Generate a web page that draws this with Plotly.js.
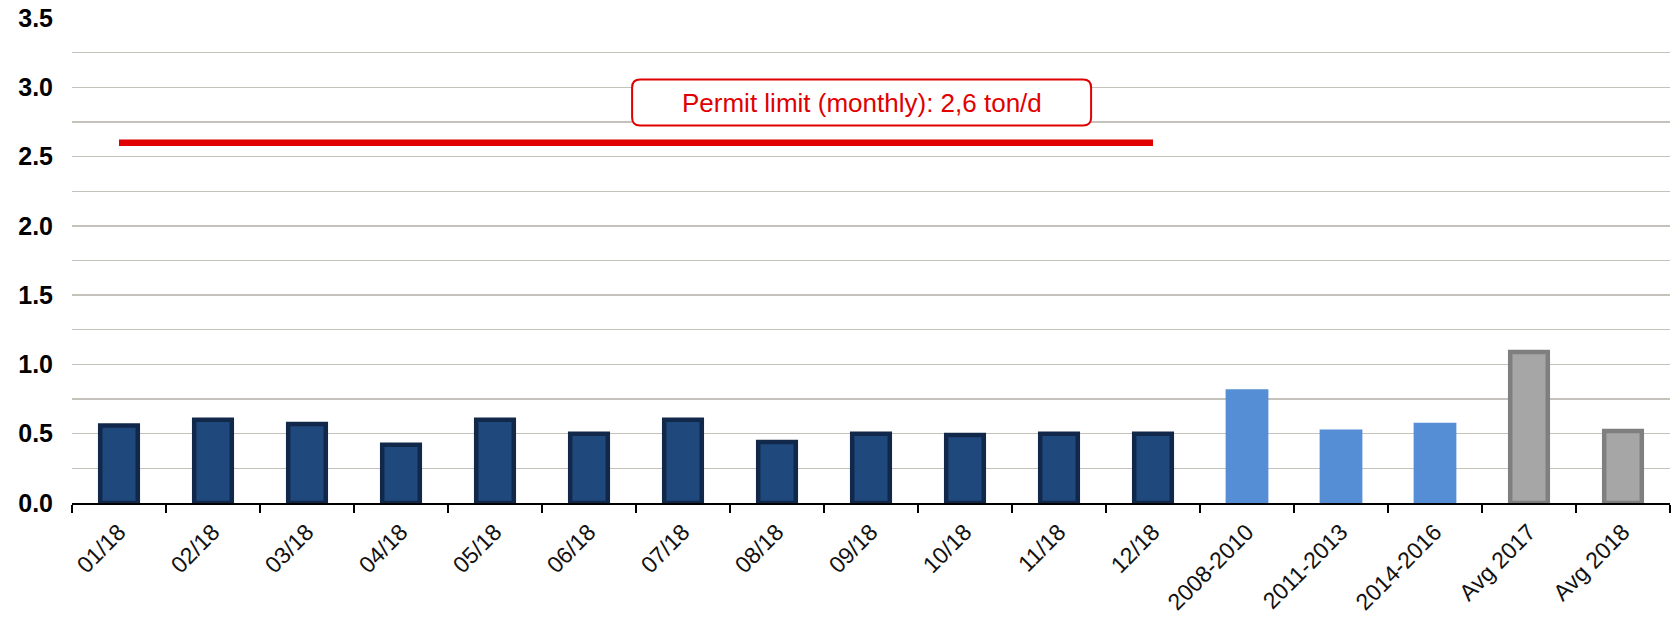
<!DOCTYPE html>
<html>
<head>
<meta charset="utf-8">
<script src="https://cdn.plot.ly/plotly-3.0.1.min.js"></script>
<style>html,body{margin:0;padding:0;background:#fff;}#chart{width:1678px;height:617px;}</style>
</head>
<body>
<div id="chart"></div>
<script>
// ---- data ----
const monthCats = ['01/18','02/18','03/18','04/18','05/18','06/18','07/18','08/18','09/18','10/18','11/18','12/18'];
const monthVals = [0.56,0.60,0.57,0.42,0.60,0.50,0.60,0.44,0.50,0.49,0.50,0.50];
const periodCats = ['2008-2010','2011-2013','2014-2016'];
const periodVals = [0.82,0.53,0.58];
const avgCats = ['Avg 2017','Avg 2018'];
const avgVals = [1.09,0.52];
const limitValue = 2.6;
const limitCats = ['01/18','12/18'];
const limitLabel = 'Permit limit (monthly): 2,6 ton/d';
const yTickVals = [0,0.5,1,1.5,2,2.5,3,3.5];
const yTickText = ['0.0','0.5','1.0','1.5','2.0','2.5','3.0','3.5'];
const allCats = monthCats.concat(periodCats, avgCats);

const FONT = 'Liberation Sans, Arial, sans-serif';

const traces = [
  {type:'bar', x:monthCats, y:monthVals, width:0.40,
   marker:{color:'#1f497d', line:{color:'#12284a', width:4.5}}, hoverinfo:'x+y'},
  {type:'bar', x:periodCats, y:periodVals, width:0.455,
   marker:{color:'#558ed5', line:{width:0}}, hoverinfo:'x+y'},
  {type:'bar', x:avgCats, y:avgVals, width:0.40,
   marker:{color:'#a6a6a6', line:{color:'#7f7f7f', width:4.5}}, hoverinfo:'x+y'},
  {type:'scatter', mode:'lines', x:limitCats, y:[limitValue, limitValue],
   line:{color:'#e00000', width:6.5}, hoverinfo:'y'}
];

// rounded label box (pixel-sized, anchored at the label position)
function roundRect(w, h, r) {
  const x0 = -w/2, x1 = w/2, y0 = -h/2, y1 = h/2;
  return `M ${x0+r},${y0} L ${x1-r},${y0} Q ${x1},${y0} ${x1},${y0+r} L ${x1},${y1-r} Q ${x1},${y1} ${x1-r},${y1} ` +
         `L ${x0+r},${y1} Q ${x0},${y1} ${x0},${y1-r} L ${x0},${y0+r} Q ${x0},${y0} ${x0+r},${y0} Z`;
}
const labelX = 7.9, labelY = 2.89;

const layout = {
  width:1678, height:617,
  margin:{l:72, r:8, t:18, b:114},
  paper_bgcolor:'#ffffff', plot_bgcolor:'#ffffff',
  showlegend:false,
  barmode:'overlay',
  font:{family:FONT, color:'#000'},
  xaxis:{
    type:'category', categoryorder:'array', categoryarray:allCats,
    tickangle:-45, tickfont:{family:FONT, size:23, color:'#111'},
    ticks:'outside', tickson:'boundaries', ticklen:8, tickcolor:'#000', tickwidth:1.5,
    ticklabelstandoff:5,
    showline:true, linecolor:'#000', linewidth:1.5,
    showgrid:false, zeroline:false, fixedrange:true
  },
  yaxis:{
    range:[0,3.5], tickvals:yTickVals, ticktext:yTickText,
    tickfont:{family:FONT, size:25, color:'#000', weight:'bold'},
    ticks:'', ticklabelstandoff:18,
    showgrid:true, gridcolor:'#c4c2bb', gridwidth:1.3,
    minor:{dtick:0.25, tick0:0, showgrid:true, gridcolor:'#c4c2bb', gridwidth:1.3},
    showline:false, zeroline:false, fixedrange:true
  },
  shapes:[{
    type:'path', xref:'x', yref:'y', xsizemode:'pixel', ysizemode:'pixel',
    xanchor:labelX, yanchor:labelY, path:roundRect(459, 46, 8),
    fillcolor:'#ffffff', line:{color:'#e00000', width:2}, layer:'above'
  }],
  annotations:[{
    x:labelX, y:labelY, xref:'x', yref:'y', text:limitLabel, showarrow:false,
    font:{family:FONT, size:26, color:'#e00000'},
    align:'center', valign:'middle'
  }]
};

Plotly.newPlot('chart', traces, layout, {displayModeBar:false, staticPlot:true});
</script>
</body>
</html>
